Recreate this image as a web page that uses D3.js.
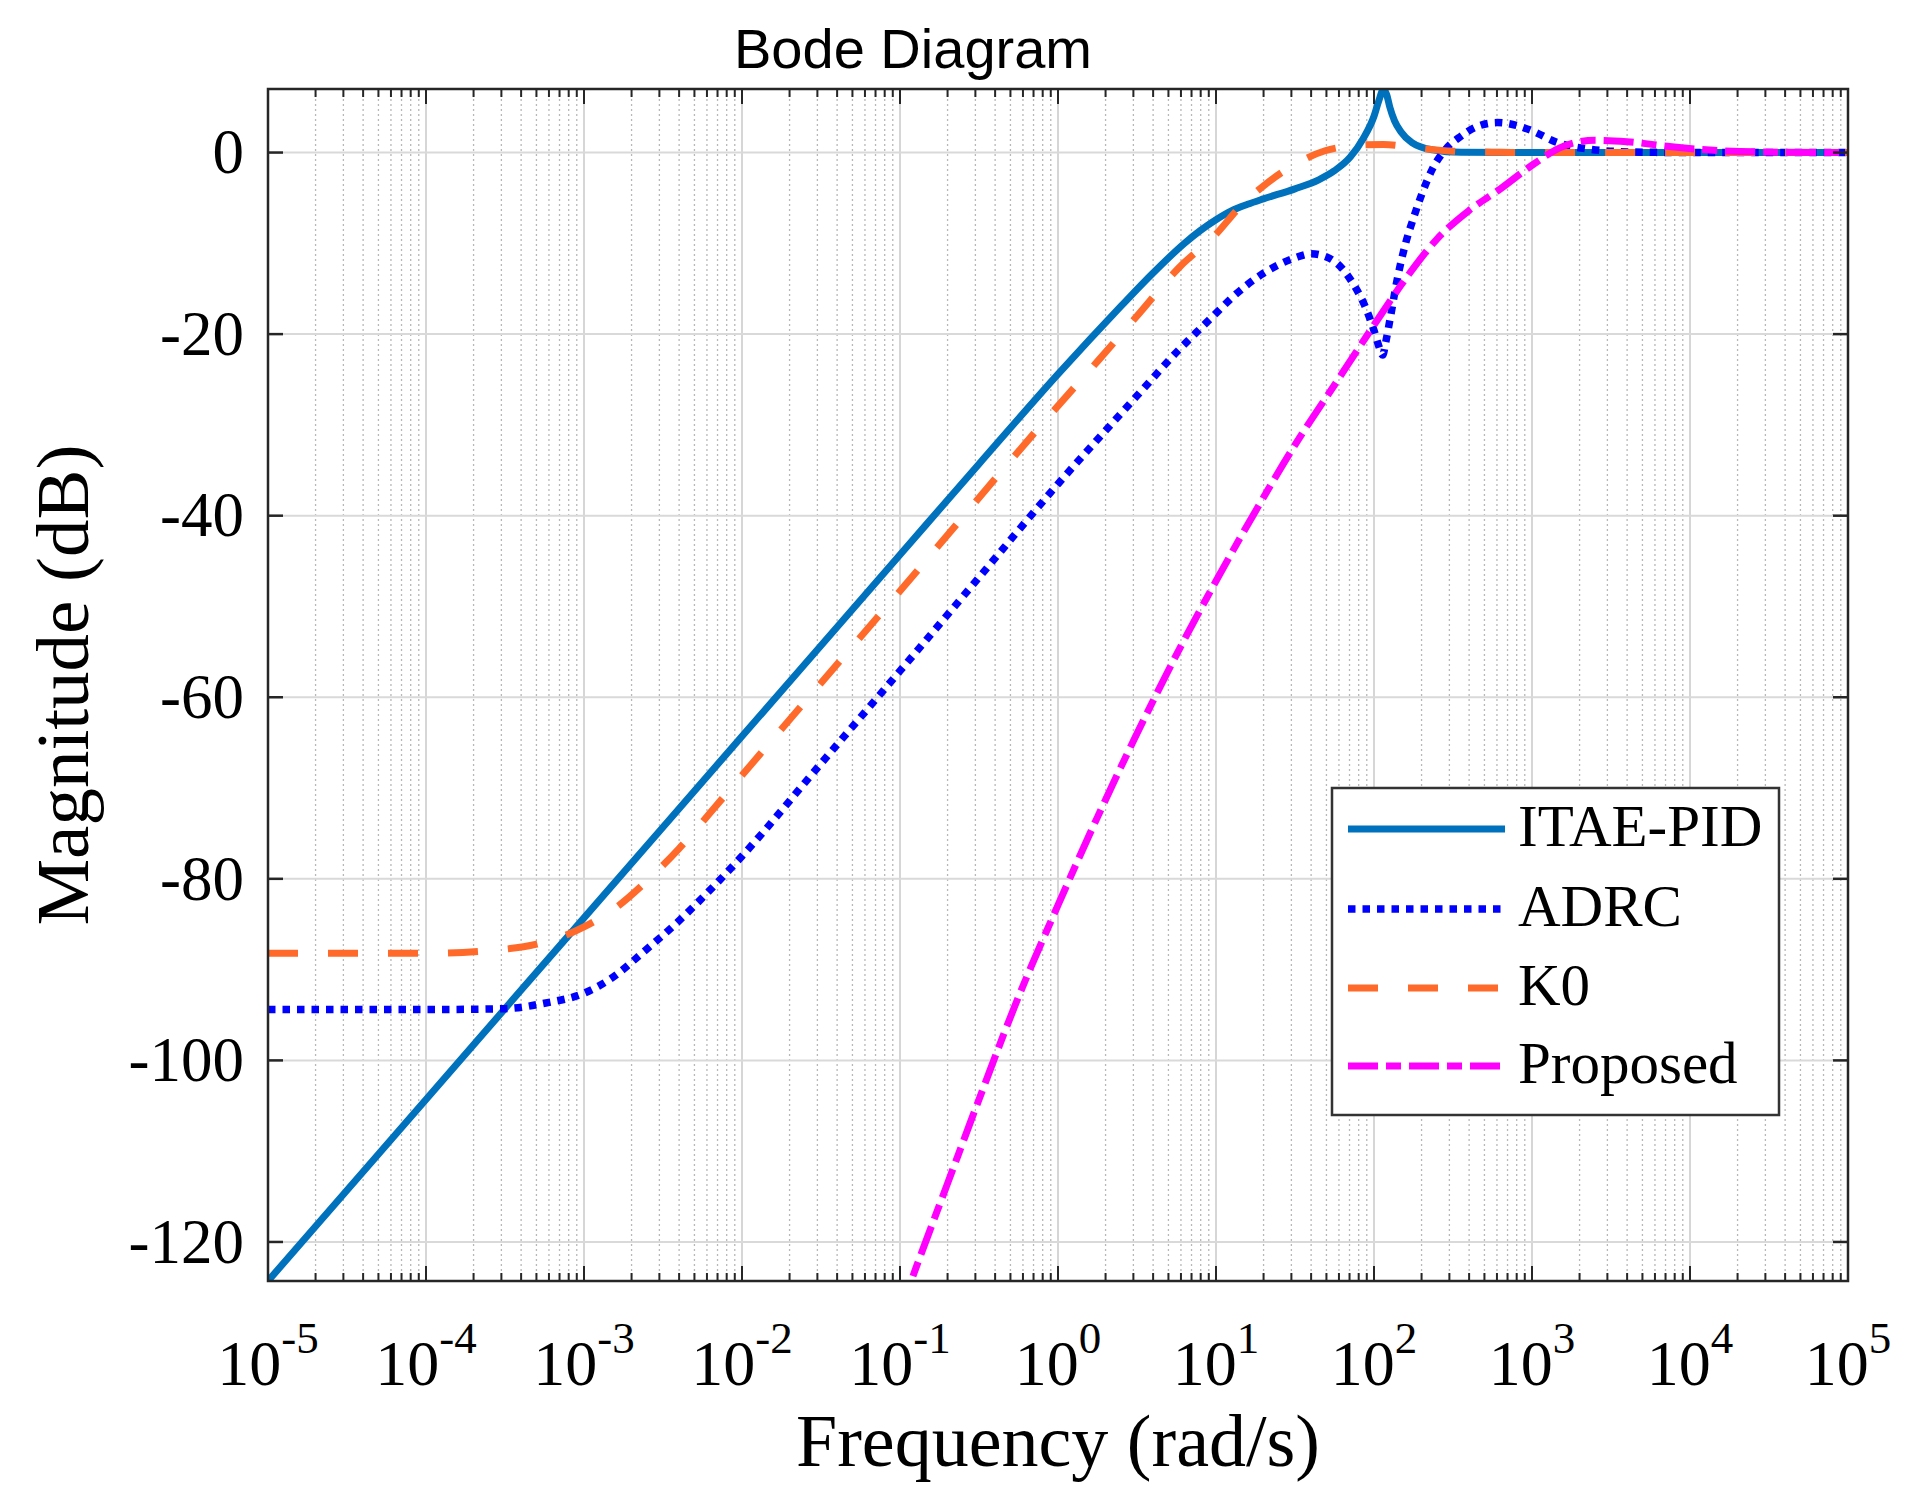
<!DOCTYPE html>
<html>
<head>
<meta charset="utf-8">
<script src="https://cdn.jsdelivr.net/npm/d3@7/dist/d3.min.js"></script>
<style>
  html, body { margin: 0; padding: 0; background: #fff; }
  svg { display: block; }
</style>
</head>
<body>
<svg id="chart" width="1906" height="1506"></svg>
<script>
// ---------------- DATA ----------------
const seriesNames = ["ITAE-PID", "ADRC", "K0", "Proposed"];

// Frequency (rad/s) and magnitude (dB) for each series
const itaeFreq = [1e-5, 1e-4, 1e-3, 1e-2, 1e-1, 0.3162, 1, 1.585, 2.512, 3.981, 6.31, 7.943, 10, 12.59, 15.85, 19.95, 31.62, 44.67, 56.23, 70.79, 85.11, 100, 107.2, 114.8, 120.2, 125.9, 134.9, 147.9, 173.8, 234.4, 354.8, 1000, 1e4, 1e5];
const itaeMag  = [-124.3, -104.3, -84.3, -64.3, -44.3, -34.3, -24.4, -20.6, -16.9, -13.3, -10.0, -8.6, -7.4, -6.4, -5.7, -5.1, -4.0, -3.0, -2.0, -0.5, 1.5, 4.0, 5.7, 6.95, 6.4, 5.0, 3.5, 2.3, 1.1, 0.3, 0.02, 0, 0, 0];

const adrcFreq = [1e-5, 1e-4, 3.162e-4, 5.623e-4, 1e-3, 1.479e-3, 2.399e-3, 3.89e-3, 6.31e-3, 1e-2, 3.162e-2, 1e-1, 0.3162, 1, 1.778, 3.162, 5.623, 7.943, 10, 12.59, 19.95, 31.62, 39.81, 50.12, 63.1, 75.86, 87.1, 100, 107.2, 113.5, 118.9, 125.9, 141.3, 158.5, 177.8, 199.5, 234.4, 281.8, 354.8, 446.7, 602.6, 794.3, 1000, 1445, 2239, 4467, 1e4, 1e5];
const adrcMag  = [-94.4, -94.4, -94.3, -93.7, -92.6, -91.0, -88.0, -84.8, -81.2, -77.5, -67.3, -57.1, -46.8, -36.5, -31.6, -26.8, -22.0, -19.4, -17.7, -16.0, -13.3, -11.6, -11.15, -11.5, -12.8, -14.8, -16.8, -19.6, -21.3, -22.3, -20.8, -18.5, -13.7, -10.0, -7.2, -4.7, -1.8, 0.3, 1.8, 2.85, 3.3, 3.0, 2.4, 1.1, 0.4, 0.05, 0, 0];

const k0Freq = [1e-5, 1e-4, 2.512e-4, 5.012e-4, 7.943e-4, 1e-3, 1.585e-3, 2.512e-3, 3.981e-3, 6.31e-3, 1e-2, 1e-1, 1, 1.778, 3.162, 5.888, 10, 13.8, 20.9, 31.62, 48.98, 74.13, 114.8, 186.2, 316.2, 631, 1000, 1e4, 1e5];
const k0Mag  = [-88.2, -88.2, -87.9, -87.2, -86.1, -85.3, -83.2, -80.2, -76.7, -72.7, -68.6, -48.3, -27.9, -23.0, -18.0, -12.6, -9.0, -6.2, -3.4, -1.3, 0.2, 0.75, 0.9, 0.5, 0.15, 0.03, 0, 0, 0];

const propFreq = [0.1, 0.1259, 0.1995, 0.3162, 0.5623, 1, 1.778, 3.162, 5.623, 10, 17.78, 31.62, 56.23, 100, 158.5, 251.2, 398.1, 631, 1000, 1585, 2512, 3981, 7943, 15850, 39810, 1e5];
const propMag  = [-127.7, -122.9, -113.6, -104.3, -93.0, -82.9, -73.2, -64.0, -55.3, -47.2, -39.5, -32.2, -25.6, -19.0, -13.9, -9.5, -6.4, -4.0, -1.4, 0.7, 1.35, 1.2, 0.6, 0.2, 0.03, 0];

const xTickExponents = [-5, -4, -3, -2, -1, 0, 1, 2, 3, 4, 5];
const yTickValues = [-120, -100, -80, -60, -40, -20, 0];

// ---------------- LAYOUT ----------------
const L = 268, R = 1848, T = 89, B = 1281;

const svg = d3.select("#chart");
const x = d3.scaleLog().domain([1e-5, 1e5]).range([L, R]);
const y = d3.scaleLinear().domain([-124.3, 7.0]).range([B, T]);

const serif = "'Liberation Serif', 'Times New Roman', serif";
const sans = "'Liberation Sans', Arial, sans-serif";

svg.append("defs").append("clipPath").attr("id", "plotclip")
  .append("rect").attr("x", L).attr("y", T).attr("width", R - L).attr("height", B - T);

// ---------------- GRID ----------------
const minorVals = [];
for (let d = -5; d < 5; d++) for (let k = 2; k <= 9; k++) minorVals.push(k * Math.pow(10, d));
const majorVals = xTickExponents.map(e => Math.pow(10, e));

const grid = svg.append("g");
grid.selectAll(".minorx").data(minorVals).enter().append("line")
  .attr("x1", d => x(d)).attr("x2", d => x(d)).attr("y1", T).attr("y2", B)
  .attr("stroke", "#b8b8b8").attr("stroke-width", 1.3).attr("stroke-dasharray", "2,3");
grid.selectAll(".majorx").data(majorVals).enter().append("line")
  .attr("x1", d => x(d)).attr("x2", d => x(d)).attr("y1", T).attr("y2", B)
  .attr("stroke", "#d6d6d6").attr("stroke-width", 2);
grid.selectAll(".majory").data(yTickValues).enter().append("line")
  .attr("x1", L).attr("x2", R).attr("y1", d => y(d)).attr("y2", d => y(d))
  .attr("stroke", "#d9d9d9").attr("stroke-width", 2);

// ---------------- CURVES ----------------
const line = d3.line().x(d => x(d[0])).y(d => y(d[1])).curve(d3.curveMonotoneX);
const zip = (f, m) => f.map((v, i) => [v, m[i]]);

const series = [
  { name: seriesNames[0], data: zip(itaeFreq, itaeMag), color: "#0072BD", dash: null, width: 7 },
  { name: seriesNames[1], data: zip(adrcFreq, adrcMag), color: "#0000FF", dash: "7.5,7", width: 7.5 },
  { name: seriesNames[2], data: zip(k0Freq, k0Mag), color: "#FF6A2A", dash: "30,30", width: 7 },
  { name: seriesNames[3], data: zip(propFreq, propMag), color: "#FF00FF", dash: "30,8,15,8", width: 7 }
];

const curves = svg.append("g").attr("clip-path", "url(#plotclip)");
series.forEach(s => {
  curves.append("path").datum(s.data)
    .attr("d", line)
    .attr("fill", "none")
    .attr("stroke", s.color)
    .attr("stroke-width", s.width)
    .attr("stroke-dasharray", s.dash)
    .attr("stroke-linejoin", "round");
});

// ---------------- AXES / FRAME ----------------
const axisColor = "#262626";
const ax = svg.append("g");
ax.append("rect").attr("x", L).attr("y", T).attr("width", R - L).attr("height", B - T)
  .attr("fill", "none").attr("stroke", axisColor).attr("stroke-width", 2.5);

[[B, -1], [T, 1]].forEach(([yy, dir]) => {
  ax.selectAll(null).data(minorVals).enter().append("line")
    .attr("x1", d => x(d)).attr("x2", d => x(d))
    .attr("y1", yy).attr("y2", yy + dir * 8)
    .attr("stroke", axisColor).attr("stroke-width", 2);
  ax.selectAll(null).data(majorVals).enter().append("line")
    .attr("x1", d => x(d)).attr("x2", d => x(d))
    .attr("y1", yy).attr("y2", yy + dir * 15)
    .attr("stroke", axisColor).attr("stroke-width", 2);
});
[[L, 1], [R, -1]].forEach(([xx, dir]) => {
  ax.selectAll(null).data(yTickValues).enter().append("line")
    .attr("x1", xx).attr("x2", xx + dir * 15)
    .attr("y1", d => y(d)).attr("y2", d => y(d))
    .attr("stroke", axisColor).attr("stroke-width", 2.5);
});

ax.selectAll(null).data(yTickValues).enter().append("text")
  .attr("x", L - 24).attr("y", d => y(d)).attr("dy", "0.33em")
  .attr("text-anchor", "end")
  .style("font-family", serif).style("font-size", "63px").attr("fill", "#000")
  .text(d => d);

xTickExponents.forEach(e => {
  const t = ax.append("text")
    .attr("x", x(Math.pow(10, e))).attr("y", 1385)
    .attr("text-anchor", "middle")
    .style("font-family", serif).attr("fill", "#000");
  t.append("tspan").style("font-size", "64px").text("10");
  t.append("tspan").style("font-size", "45px").attr("dy", -32).text(String(e));
});

svg.append("text").attr("x", (L + R) / 2).attr("y", 1466)
  .attr("text-anchor", "middle")
  .style("font-family", serif).style("font-size", "74px").attr("fill", "#000")
  .text("Frequency (rad/s)");
svg.append("text")
  .attr("transform", `translate(88, ${(T + B) / 2}) rotate(-90)`)
  .attr("text-anchor", "middle")
  .style("font-family", serif).style("font-size", "75px").attr("fill", "#000")
  .text("Magnitude (dB)");

svg.append("text").attr("x", 913).attr("y", 68)
  .attr("text-anchor", "middle")
  .style("font-family", sans).style("font-size", "56px").attr("fill", "#000")
  .text("Bode Diagram");

// ---------------- LEGEND ----------------
const lg = svg.append("g");
const lgX = 1332, lgY = 788, lgW = 447, lgH = 327;
lg.append("rect").attr("x", lgX).attr("y", lgY).attr("width", lgW).attr("height", lgH)
  .attr("fill", "#fff").attr("stroke", "#333").attr("stroke-width", 2.5);
const rowY = [829, 909, 988, 1066];
series.forEach((s, i) => {
  lg.append("line").attr("x1", 1348).attr("x2", 1505)
    .attr("y1", rowY[i]).attr("y2", rowY[i])
    .attr("stroke", s.color).attr("stroke-width", s.width)
    .attr("stroke-dasharray", s.dash);
  lg.append("text").attr("x", 1518).attr("y", rowY[i]).attr("dy", "0.29em")
    .style("font-family", serif).style("font-size", "59px").attr("fill", "#000")
    .text(s.name);
});
</script>
</body>
</html>
